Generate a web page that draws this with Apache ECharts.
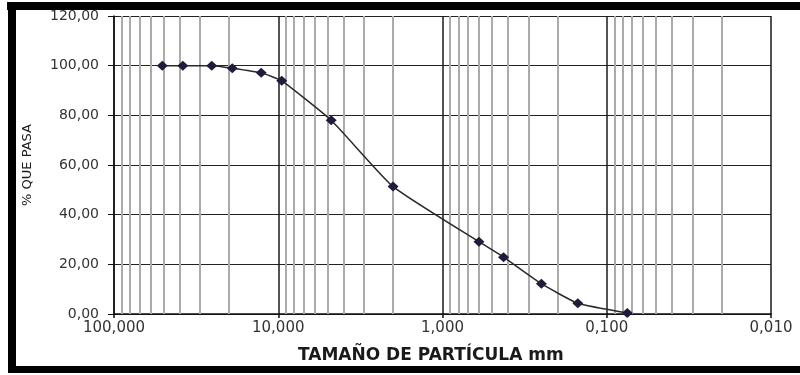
<!DOCTYPE html>
<html>
<head>
<meta charset="utf-8">
<script src="https://cdn.jsdelivr.net/npm/echarts@6/dist/echarts.min.js"></script>
<style>
html,body{margin:0;padding:0;background:#fff;}
#chart{width:800px;height:375px;}
</style>
</head>
<body>
<div id="chart"></div>
<script>
// Particle sizes (mm) and percent passing
var sizes = [50.8, 38.1, 25.4, 19.05, 12.7, 9.525, 4.76, 2.0, 0.6, 0.425, 0.25, 0.15, 0.075];
var passing = [100, 100, 100, 99.0, 97.1, 93.9, 78.0, 51.3, 29.1, 22.9, 12.2, 4.3, 0.4];
// Minor grid values (2..9 x each decade)
var minorGrid = [];
var decades = [0.01, 0.1, 1, 10];
var multipliers = [2, 3, 4, 5, 6, 7, 8, 9];
decades.forEach(function (d) { multipliers.forEach(function (m) { minorGrid.push(+(d * m).toPrecision(3)); }); });
var xTitle = 'TAMAÑO DE PARTÍCULA mm';
var yTitle = '% QUE PASA';

var chart = echarts.init(document.getElementById('chart'), null, {renderer: 'canvas'});
var font = 'DejaVu Sans';
chart.setOption({
  animation: false,
  backgroundColor: '#fff',
  grid: {left: 114, right: 29, top: 16, bottom: 61, containLabel: false},
  xAxis: {
    type: 'log', logBase: 10, min: 0.01, max: 100, inverse: true,
    axisLine: {show: true, lineStyle: {color: '#111', width: 1.5}},
    axisTick: {show: true, length: 4, lineStyle: {color: '#111', width: 1.5}},
    axisLabel: {fontFamily: font, fontSize: 15, color: '#333', margin: 7,
      formatter: function (v) { return v.toFixed(3).replace('.', ','); }},
    splitLine: {show: true, lineStyle: {color: '#1a1a1a', width: 1.5}},
    minorTick: {show: false}, minorSplitLine: {show: false}
  },
  yAxis: {
    type: 'value', min: 0, max: 120, interval: 20,
    name: yTitle, nameLocation: 'middle', nameGap: 80, nameRotate: 90,
    nameTextStyle: {fontFamily: font, fontSize: 13, color: '#1a1a1a'},
    axisLine: {show: true, lineStyle: {color: '#111', width: 1.5}},
    axisTick: {show: true, length: 6, lineStyle: {color: '#111', width: 1}},
    axisLabel: {fontFamily: font, fontSize: 14, color: '#333', margin: 15,
      formatter: function (v) { return v.toFixed(2).replace('.', ','); }},
    splitLine: {show: true, lineStyle: {color: '#222', width: 1.2}}
  },
  series: [
    {
      type: 'line', data: [], z: 0, silent: true,
      markLine: {
        silent: true, symbol: 'none', label: {show: false},
        lineStyle: {color: '#ababab', width: 2, type: 'solid'},
        data: minorGrid.map(function (v) { return {xAxis: v}; })
      }
    },
    {
      type: 'line', z: 5,
      data: sizes.map(function (s, i) { return [s, passing[i]]; }),
      smooth: 0.15,
      symbol: 'diamond', symbolSize: [11, 10],
      itemStyle: {color: '#1e1e3c'},
      lineStyle: {color: '#2a2a2a', width: 1.5}
    }
  ],
  graphic: [
    {type: 'text', left: 298, top: 347, style: {text: xTitle, font: 'bold 17px "DejaVu Sans"', fill: '#1a1a1a'}},
    {type: 'rect', shape: {x: 7, y: 2, width: 793, height: 8}, style: {fill: '#000'}},
    {type: 'rect', shape: {x: 8, y: 2, width: 8, height: 371}, style: {fill: '#000'}},
    {type: 'rect', shape: {x: 8, y: 366, width: 792, height: 7}, style: {fill: '#000'}}
  ]
});
</script>
</body>
</html>
